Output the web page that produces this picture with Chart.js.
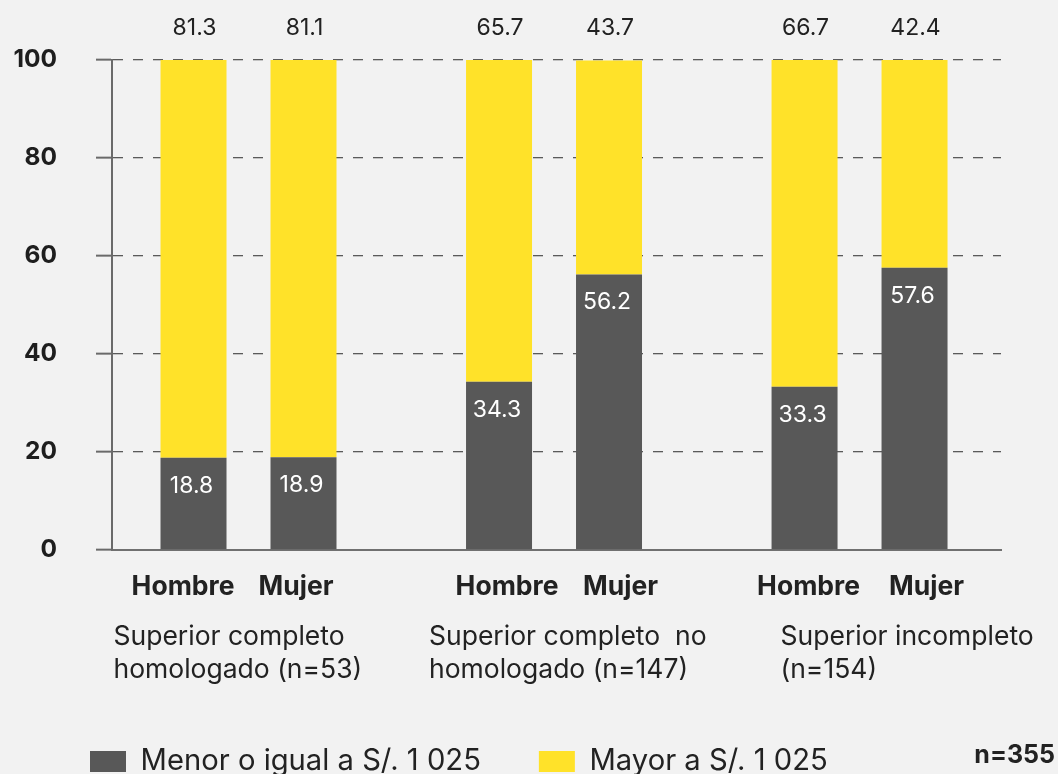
<!DOCTYPE html>
<html>
<head>
<meta charset="utf-8">
<script src="https://cdn.jsdelivr.net/npm/chart.js@4.4.0/dist/chart.umd.min.js"></script>
<style>
  html, body { margin: 0; padding: 0; background: #f2f2f2; overflow: hidden; }
  #wrap { width: 1058px; height: 786px; }
</style>
</head>
<body>
<div id="wrap"><canvas id="c" width="1058" height="786"></canvas></div>
<script>
// ---- data ----
const groups = [
  ['Superior completo', 'homologado (n=53)'],
  ['Superior completo  no', 'homologado (n=147)'],
  ['Superior incompleto', '(n=154)']
];
const sexes = ['Hombre', 'Mujer'];
const seriesNames = ['Menor o igual a S/. 1 025', 'Mayor a S/. 1 025'];
const hombreMenor = [18.8, 34.3, 33.3];
const hombreMayor = [81.3, 65.7, 66.7];
const mujerMenor  = [18.9, 56.2, 57.6];
const mujerMayor  = [81.1, 43.7, 42.4];
const yTicks = [0, 20, 40, 60, 80, 100];
const totalN = 'n=355';

// ---- styles ----
const DARK = '#585858';
const YELLOW = '#FFE229';
const FONT = 'Inter';

const toPts = arr => arr.map((v, i) => ({ x: i, y: v }));

const datasets = [
  { label: seriesNames[0], part: 'menor', sex: 0, stack: 'H', data: toPts(hombreMenor), backgroundColor: DARK },
  { label: seriesNames[1], part: 'mayor', sex: 0, stack: 'H', data: toPts(hombreMayor), backgroundColor: YELLOW },
  { label: seriesNames[0], part: 'menor', sex: 1, stack: 'M', data: toPts(mujerMenor), backgroundColor: DARK },
  { label: seriesNames[1], part: 'mayor', sex: 1, stack: 'M', data: toPts(mujerMayor), backgroundColor: YELLOW }
];

const groupLabelDx = [-135, -125, -79];
const sexLabelDx = [[-10.5, -7.5], [8, 11.5], [4, 12]];

const labelPlugin = {
  id: 'customLabels',
  afterLayout(chart) {
    // let the y tick labels use the whole left margin (avoid clipping)
    chart.scales.y.left = 0;
  },
  afterDatasetsDraw(chart) {
    const ctx = chart.ctx;
    const area = chart.chartArea;
    ctx.save();
    ctx.textAlign = 'center';
    ctx.textBaseline = 'middle';
    chart.data.datasets.forEach((ds, di) => {
      const meta = chart.getDatasetMeta(di);
      meta.data.forEach((bar, i) => {
        const txt = ds.data[i].y.toFixed(1);
        if (ds.part === 'menor') {
          ctx.fillStyle = '#ffffff';
          ctx.font = '400 23px ' + FONT;
          ctx.fillText(txt, bar.x - 2, bar.y + 28);
          ctx.fillStyle = '#222222';
          ctx.font = '700 26.5px ' + FONT;
          ctx.fillText(sexes[ds.sex], bar.x + sexLabelDx[i][ds.sex], area.bottom + 37);
        } else {
          ctx.fillStyle = '#222222';
          ctx.font = '400 23px ' + FONT;
          ctx.fillText(txt, bar.x + 1, area.top - 32);
        }
      });
    });
    const xs = chart.scales.x;
    ctx.textAlign = 'left';
    ctx.fillStyle = '#222222';
    ctx.font = '400 26.5px ' + FONT;
    groups.forEach((lines, i) => {
      const cx = xs.getPixelForValue(i) + groupLabelDx[i];
      lines.forEach((ln, k) => ctx.fillText(ln, cx, area.bottom + 87 + k * 33));
    });
    ctx.textAlign = 'right';
    ctx.font = '700 25px ' + FONT;
    ctx.fillText(totalN, 1055, 755);
    ctx.restore();
  }
};

Chart.defaults.font.family = FONT;

new Chart(document.getElementById('c'), {
  type: 'bar',
  data: { datasets },
  plugins: [labelPlugin],
  options: {
    responsive: false,
    devicePixelRatio: 1,
    animation: false,
    categoryPercentage: 0.72,
    barPercentage: 0.6,
    layout: { padding: { left: 32, right: 57, top: 60, bottom: 0 } },
    plugins: {
      tooltip: { enabled: false },
      legend: {
        position: 'bottom',
        align: 'start',
        labels: {
          filter: item => item.datasetIndex < 2,
          boxWidth: 36,
          boxHeight: 21,
          padding: 58,
          color: '#222222',
          font: { size: 29.2, family: FONT }
        }
      }
    },
    scales: {
      x: {
        type: 'linear',
        offset: false,
        min: -0.4468,
        max: 2.463,
        stacked: true,
        afterFit: s => { s.height = 139; },
        ticks: { display: false, stepSize: 1, includeBounds: false },
        grid: { display: false, offset: false },
        border: { display: true, color: '#707070', width: 2 }
      },
      y: {
        stacked: true,
        min: 0,
        max: 100,
        afterFit: s => { s.width = 80; },
        afterBuildTicks: s => { s.ticks = yTicks.map(v => ({ value: v })); },
        ticks: {
          padding: 39,
          color: '#1e1e1e',
          font: { size: 24.5, weight: '700', family: FONT }
        },
        grid: {
          color: '#5a5a5a',
          lineWidth: 1.3,
          tickLength: 16,
          tickColor: '#6a6a6a',
          tickWidth: 2
        },
        border: { display: true, color: '#6a6a6a', width: 2, dash: [10, 10] }
      }
    }
  }
});
</script>
</body>
</html>
